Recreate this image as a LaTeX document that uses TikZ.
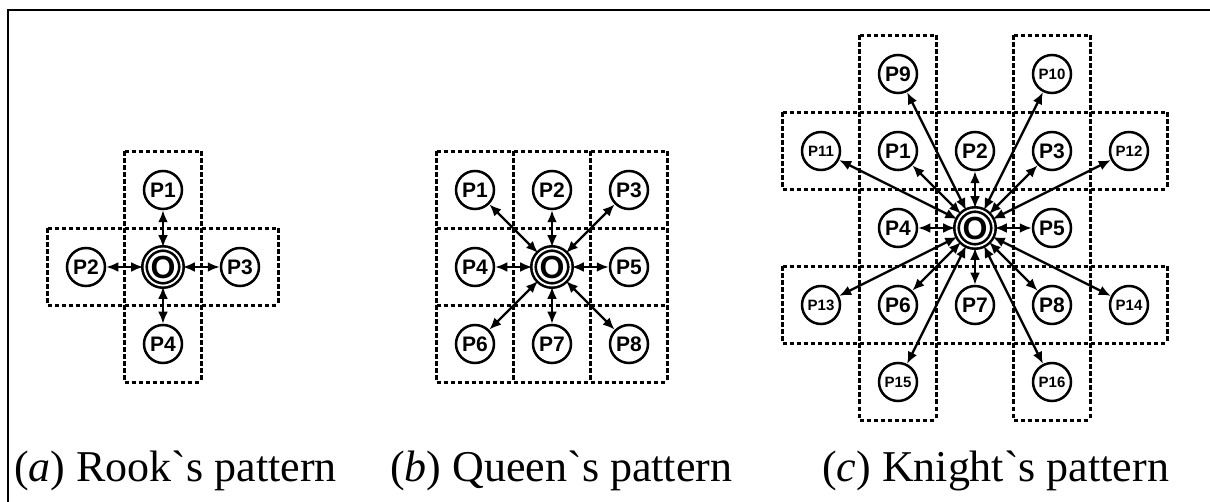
\documentclass[tikz,border=0pt]{standalone}
\usepackage{fontspec}
\setmainfont{Liberation Serif}[Ligatures=TeXOff]
\setsansfont{Liberation Sans}
\usetikzlibrary{arrows.meta}
\tikzset{pnode/.style = {draw, circle, line width=2.5pt, inner sep=0, minimum size=38pt,
                         font=\sffamily\bfseries\fontsize{21}{21}\selectfont}}
\tikzset{smallp/.style = {pnode, font=\sffamily\bfseries\fontsize{15}{15}\selectfont}}
\tikzset{onode/.style = {draw, circle, double, double distance=1.8pt, line width=2.6pt,
                         inner sep=0, minimum size=37pt,
                         font=\sffamily\bfseries\fontsize{32}{32}\selectfont}}
\tikzset{link/.style = {{Latex[length=12pt,width=10pt]}-{Latex[length=12pt,width=10pt]},
                        line width=2.4pt}}
\tikzset{cellline/.style = {line width=2.6pt, dash pattern=on 4.5pt off 2.5pt}}
\tikzset{caption/.style = {anchor=base west, inner sep=0, font=\fontsize{44}{44}\selectfont}}
% one dashed cell of side 77 around (#1,#2)
\newcommand{\gridcell}[2]{%
  \draw[cellline] (#1-38.5,#2-38.5) -- (#1+38.5,#2-38.5);
  \draw[cellline] (#1-38.5,#2+38.5) -- (#1+38.5,#2+38.5);
  \draw[cellline] (#1-38.5,#2-38.5) -- (#1-38.5,#2+38.5);
  \draw[cellline] (#1+38.5,#2-38.5) -- (#1+38.5,#2+38.5);}

\begin{document}
\begin{tikzpicture}[x=1pt, y=-1pt]
    \useasboundingbox (0,0) rectangle (1210,502);
    \draw[line width=2.6pt] (8,502) -- (8,10) -- (1210,10);

    % rook
    \foreach \cx/\cy in {163/190, 86/267, 163/267, 240/267, 163/344} {
        \gridcell{\cx}{\cy}
    }
    \node[onode] (rO) at (163,267) {O};
    \node[pnode] (r1) at (163,190) {P1};
    \node[pnode] (r2) at (86,267) {P2};
    \node[pnode] (r3) at (240,267) {P3};
    \node[pnode] (r4) at (163,344) {P4};
    \foreach \p in {r1, r2, r3, r4} {
        \draw[link] (rO) -- (\p);
    }

    % queen
    \foreach \cx in {475, 552, 629} {
        \foreach \cy in {190, 267, 344} {
            \gridcell{\cx}{\cy}
        }
    }
    \node[onode] (qO) at (552,267) {O};
    \foreach \p/\x/\y/\t in {q1/475/190/P1, q2/552/190/P2, q3/629/190/P3,
                             q4/475/267/P4, q5/629/267/P5,
                             q6/475/344/P6, q7/552/344/P7, q8/629/344/P8} {
        \node[pnode] (\p) at (\x,\y) {\t};
        \draw[link] (qO) -- (\p);
    }

    % knight
    \foreach \cx/\cy in {898/74, 1052/74,
                         821/151, 898/151, 975/151, 1052/151, 1129/151,
                         898/228, 975/228, 1052/228,
                         821/305, 898/305, 975/305, 1052/305, 1129/305,
                         898/382, 1052/382} {
        \gridcell{\cx}{\cy}
    }
    \node[onode] (kO) at (975,228) {O};
    \foreach \p/\x/\y/\t in {k1/898/151/P1, k2/975/151/P2, k3/1052/151/P3,
                             k4/898/228/P4, k5/1052/228/P5,
                             k6/898/305/P6, k7/975/305/P7, k8/1052/305/P8,
                             k9/898/74/P9} {
        \node[pnode] (\p) at (\x,\y) {\t};
        \draw[link] (kO) -- (\p);
    }
    \foreach \p/\x/\y/\t in {k10/1052/74/P10, k11/821/151/P11, k12/1129/151/P12,
                             k13/821/305/P13, k14/1129/305/P14,
                             k15/898/382/P15, k16/1052/382/P16} {
        \node[smallp] (\p) at (\x,\y) {\t};
        \draw[link] (kO) -- (\p);
    }

    \node[caption] (capa) at (14,481) {(\textit{a}) Rook`s pattern};
    \node[caption] (capb) at (390,481) {(\textit{b}) Queen`s pattern};
    \node[caption] (capc) at (822,481) {(\textit{c}) Knight`s pattern};
\end{tikzpicture}
\end{document}
